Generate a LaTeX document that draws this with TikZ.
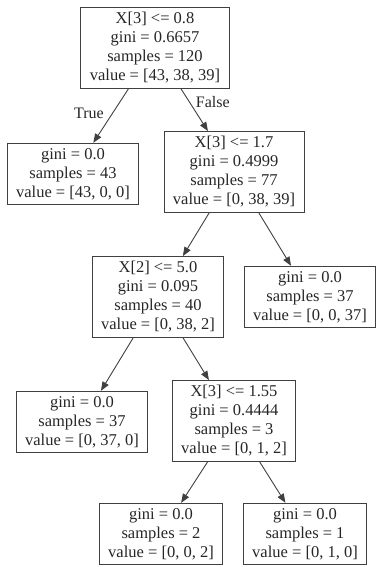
\documentclass[tikz,border=0pt]{standalone}
\usepackage{fontspec}
\setmainfont{Liberation Serif}
\usetikzlibrary{arrows.meta,positioning}

\begin{document}
\begin{tikzpicture}[>={Triangle[length=9pt,width=7pt]},on grid,
  box/.style={draw=black!75,line width=0.9pt,text=black!85,align=center,inner xsep=9pt,inner ysep=5pt,font=\fontsize{16.5}{19}\selectfont},
  edge/.style={->,line width=0.9pt,black!75},
  lbl/.style={text=black!85,font=\fontsize{16}{19}\selectfont}]
  \useasboundingbox (0,0) rectangle (376pt,-567pt);
  \node[box] (a) at (155pt,-48pt) {X[3] <= 0.8\\gini = 0.6657\\samples = 120\\value = [43, 38, 39]};
  \node[box,below left=126pt and 82pt of a] (b) {gini = 0.0\\samples = 43\\value = [43, 0, 0]};
  \node[box,below right=124pt and 79pt of a] (c) {X[3] <= 1.7\\gini = 0.4999\\samples = 77\\value = [0, 38, 39]};
  \node[box,below left=125pt and 76pt of c] (d) {X[2] <= 5.0\\gini = 0.095\\samples = 40\\value = [0, 38, 2]};
  \node[box,below right=125pt and 76pt of c] (e) {gini = 0.0\\samples = 37\\value = [0, 0, 37]};
  \node[box,below left=125pt and 76pt of d] (f) {gini = 0.0\\samples = 37\\value = [0, 37, 0]};
  \node[box,below right=124pt and 76pt of d] (g) {X[3] <= 1.55\\gini = 0.4444\\samples = 3\\value = [0, 1, 2]};
  \node[box,below left=113pt and 73pt of g] (h) {gini = 0.0\\samples = 2\\value = [0, 0, 2]};
  \node[box,below right=113pt and 71pt of g] (i) {gini = 0.0\\samples = 1\\value = [0, 1, 0]};
  \draw[edge](a)--(b) node[lbl,pos=0.45,left=5pt]{True};
  \draw[edge](a)--(c) node[lbl,pos=0.3,right=3pt]{False};
  \draw[edge](c)--(d);\draw[edge](c)--(e);
  \draw[edge](d)--(f);\draw[edge](d)--(g);
  \draw[edge](g)--(h);\draw[edge](g)--(i);
\end{tikzpicture}
\end{document}
